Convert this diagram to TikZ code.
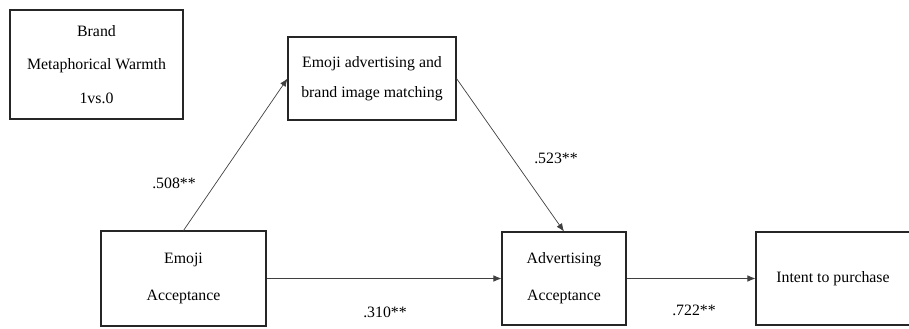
\documentclass[tikz,border=0pt]{standalone}
\usepackage{fontspec}
\setmainfont{Liberation Serif}
\usetikzlibrary{arrows.meta, positioning}

\begin{document}
\begin{tikzpicture}[
    x=0.02cm, y=-0.02cm,
    box/.style={rectangle, draw=black!85, semithick, align=center,
                font=\fontsize{9}{16}\selectfont, inner sep=2pt},
    arrow/.style={-{Latex[length=1.6mm, width=1.3mm]}, draw=black!75, thin},
    lab/.style={font=\fontsize{9}{11}\selectfont},
]
\useasboundingbox (0,0) rectangle (909,328);

% ---------- top row ----------
\node[box, minimum width=3.46cm, minimum height=2.18cm] (brand) at (96.5,64.5)
      {Brand\\[3pt] Metaphorical Warmth\\[3pt] 1vs.0};
\node[box, minimum width=3.36cm, minimum height=1.66cm] (match) at (372,78.5)
      {Emoji advertising and\\[1pt] brand image matching};

% ---------- bottom row (left -> right) ----------
\node[box, minimum width=3.3cm,  minimum height=1.9cm]  (accept) at (183.5,278.5)
      {Emoji\\[5pt] Acceptance};
\node[box, minimum width=2.48cm, minimum height=1.86cm, right=4.7cm of accept] (adaccept)
      {Advertising\\[5pt] Acceptance};
\node[box, minimum width=3.08cm, minimum height=1.86cm, right=2.58cm of adaccept] (intent)
      {Intent to purchase};

% ---------- paths ----------
\draw[arrow] (accept.north) -- (match.west);
\draw[arrow] (match.east)   -- (adaccept.north);
\draw[arrow] (accept.east)  -- (adaccept.west);
\draw[arrow] (adaccept.east)-- (intent.west);

% ---------- coefficients ----------
\node[lab] (c508) at (174,183) {.508**};
\node[lab] (c523) at (556,158) {.523**};
\node[lab] (c310) at (385,312) {.310**};
\node[lab] (c722) at (694,310) {.722**};

\end{tikzpicture}
\end{document}
